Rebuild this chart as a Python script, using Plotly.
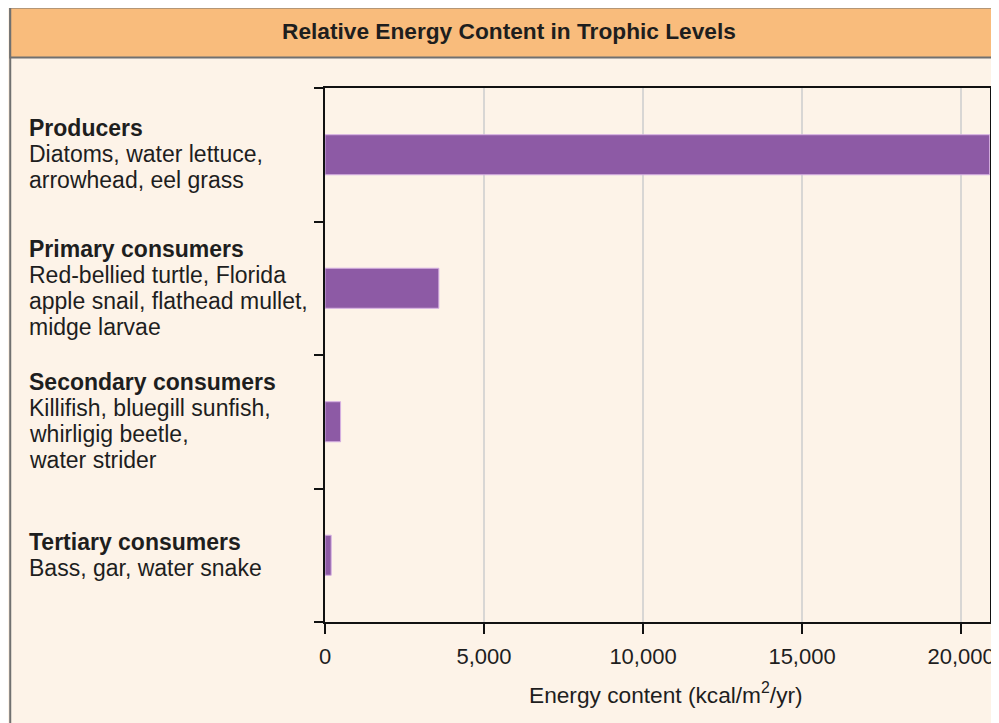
import plotly.graph_objects as go

# ---- data ----
categories = ["Producers", "Primary consumers", "Secondary consumers", "Tertiary consumers"]
examples = [
    ["Diatoms, water lettuce,", "arrowhead, eel grass"],
    ["Red-bellied turtle, Florida", "apple snail, flathead mullet,", "midge larvae"],
    ["Killifish, bluegill sunfish,", "whirligig beetle,", "water strider"],
    ["Bass, gar, water snake"],
]
energy = [20900, 3580, 490, 195]
x_ticks = [0, 5000, 10000, 15000, 20000]
x_tick_labels = ["0", "5,000", "10,000", "15,000", "20,000"]
title_text = "Relative Energy Content in Trophic Levels"
x_title = "Energy content (kcal/m<sup>2</sup>/yr)"

# ---- layout constants ----
# The page adds an 8px body margin; work in page pixels and convert.
OFF = 8
PAGE_W, PAGE_H = 999, 723
W, H = PAGE_W - OFF, PAGE_H - OFF
PL, PR, PT, PB = 325, 990.5, 88, 622          # plot area in page pixels
L, T = PL - OFF, PT - OFF
R = W - (PR - OFF)
B = H - (PB - OFF)
PW, PH = PR - PL, PB - PT
FONT = "Liberation Sans, Arial, sans-serif"
BG = "#FDF3E8"
TXT = "#1e1e1e"


def px(x):
    return (x - PL) / PW


def py(y):
    return (PB - y) / PH


pos = list(range(len(categories)))

fig = go.Figure()
fig.add_trace(go.Bar(
    x=energy, y=pos, orientation="h", width=0.3,
    marker=dict(color="#8D5AA5", line=dict(color="#D6B0E3", width=1)),
    hoverinfo="skip",
))

annotations = []
shapes = []

# frame + header
shapes.append(dict(type="rect", xref="paper", yref="paper",
                   x0=px(10), x1=px(1010), y0=py(740), y1=py(7.5),
                   line=dict(color="#707070", width=2), fillcolor="rgba(0,0,0,0)"))
shapes.append(dict(type="rect", xref="paper", yref="paper",
                   x0=px(10), x1=px(1010), y0=py(57.5), y1=py(7.5),
                   line=dict(color="#707070", width=2), fillcolor="#F9BC7C"))
annotations.append(dict(text="<b>" + title_text + "</b>", xref="paper", yref="paper",
                        x=px(509), y=py(31), xanchor="center", yanchor="middle",
                        showarrow=False, font=dict(family=FONT, size=22.7, color=TXT)))

# x axis title
annotations.append(dict(text=x_title, xref="paper", yref="paper",
                        x=px(666), y=py(693), xanchor="center", yanchor="middle",
                        showarrow=False, font=dict(family=FONT, size=22.7, color=TXT)))

# category labels
LS = 26
for i, (cat, ex) in enumerate(zip(categories, examples)):
    lines = ["<b>" + cat + "</b>"] + ex
    n = len(lines)
    mid = (n - 1) / 2
    for j, ln in enumerate(lines):
        annotations.append(dict(text=ln, xref="paper", yref="y", x=px(27), y=pos[i],
                                xanchor="left", yanchor="middle", showarrow=False,
                                yshift=(mid - j) * LS + 0.5,
                                font=dict(family=FONT, size=23, color=TXT)))

fig.update_layout(
    width=W, height=H, margin=dict(l=L, r=R, t=T, b=B, autoexpand=False),
    paper_bgcolor=BG, plot_bgcolor=BG, showlegend=False,
    annotations=annotations, shapes=shapes,
    xaxis=dict(range=[0, 20910], tickvals=x_ticks, ticktext=x_tick_labels,
               automargin=False,
               showgrid=True, gridcolor="#D8D6D4", gridwidth=2,
               showline=True, linecolor="#111", linewidth=2, mirror=True,
               ticks="outside", ticklen=10, tickwidth=2, tickcolor="#111",
               ticklabelstandoff=4,
               zeroline=False,
               tickfont=dict(family=FONT, size=22, color=TXT)),
    yaxis=dict(range=[3.5, -0.5], tickvals=[-0.5, 0.5, 1.5, 2.5, 3.5], showticklabels=False,
               automargin=False,
               showgrid=False, zeroline=False,
               showline=True, linecolor="#111", linewidth=2, mirror=True,
               ticks="outside", ticklen=9, tickwidth=2, tickcolor="#111"),
)

fig.write_html("out.html")
